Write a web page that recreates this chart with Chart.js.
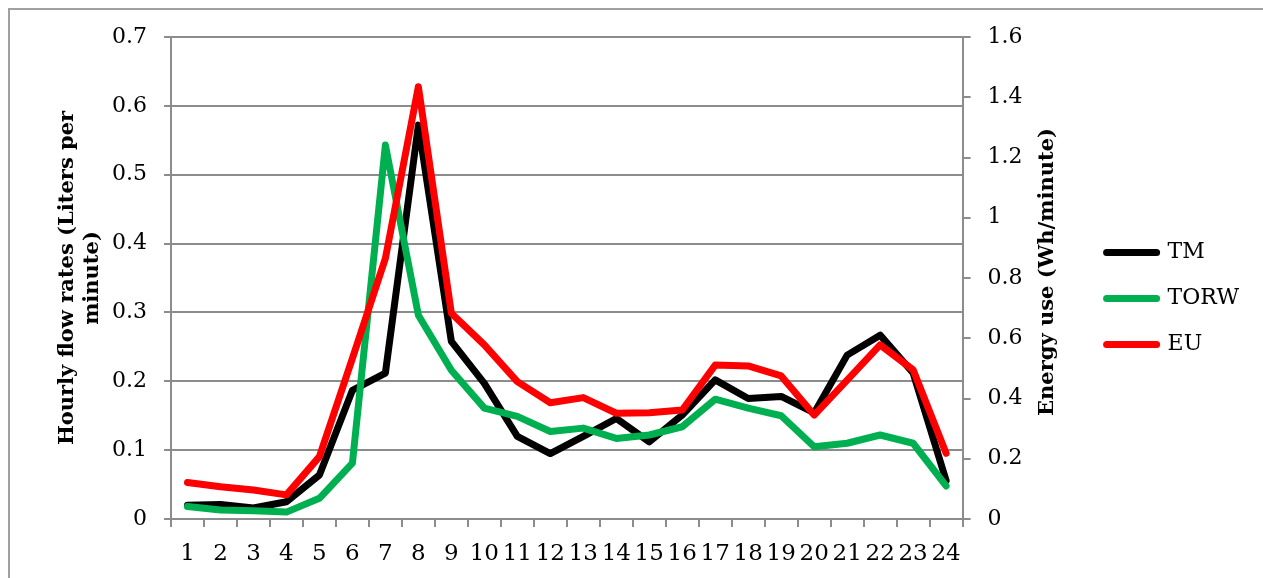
<!DOCTYPE html>
<html>
<head>
<meta charset="utf-8">
<script src="https://cdn.jsdelivr.net/npm/chart.js@4.4.1/dist/chart.umd.min.js"></script>
<style>
  html, body { margin: 0; padding: 0; background: #fff; overflow: hidden; }
  #frame { position: absolute; left: 8px; top: 8px; width: 1300px; height: 620px; border: 2px solid #a0a0a0; }
  #wrap { position: absolute; left: 0; top: 0; width: 1263px; height: 578px; }
</style>
</head>
<body>
<div id="frame"></div>
<div id="wrap"><canvas id="flowChart" width="1263" height="578"></canvas></div>
<script>
// hours of the day
const hours = ['1', '2', '3', '4', '5', '6', '7', '8', '9', '10', '11', '12',
               '13', '14', '15', '16', '17', '18', '19', '20', '21', '22', '23', '24'];

// flow rates, L/min (left axis)
const tmFlow = [0.020, 0.021, 0.016, 0.025, 0.064, 0.187, 0.212, 0.572, 0.258, 0.197, 0.120, 0.095,
                0.120, 0.146, 0.112, 0.151, 0.202, 0.175, 0.178, 0.154, 0.238, 0.267, 0.212, 0.056];
const torwFlow = [0.018, 0.013, 0.012, 0.010, 0.030, 0.081, 0.543, 0.296, 0.216, 0.161, 0.149, 0.127,
                  0.132, 0.117, 0.122, 0.134, 0.174, 0.161, 0.150, 0.105, 0.110, 0.122, 0.110, 0.048];

// energy use, Wh/min (right axis)
const euEnergy = [0.121, 0.107, 0.096, 0.080, 0.207, 0.533, 0.865, 1.435, 0.683, 0.578, 0.456, 0.386,
                  0.403, 0.351, 0.353, 0.362, 0.511, 0.508, 0.475, 0.345, 0.461, 0.578, 0.495, 0.218];

const flowTicks = ['0', '0.1', '0.2', '0.3', '0.4', '0.5', '0.6', '0.7'];
const energyTicks = ['0', '0.2', '0.4', '0.6', '0.8', '1', '1.2', '1.4', '1.6'];

const flowTitle = ['Hourly flow rates (Liters per', 'minute)'];
const energyTitle = 'Energy use (Wh/minute)';

Chart.defaults.font.family = '"DejaVu Serif", serif';
Chart.defaults.color = '#000';

const gridGray = '#8c8c8c';

// right axis title reads bottom-to-top like the left one
const rightTitle = {
    id: 'rightTitle',
    afterDraw(chart) {
        const s = chart.scales.yEnergy;
        const { ctx, chartArea } = chart;
        ctx.save();
        ctx.translate(s.right - 35, (chartArea.top + chartArea.bottom) / 2 - 6);
        ctx.rotate(-Math.PI / 2);
        ctx.font = 'bold 21px "DejaVu Serif"';
        ctx.fillStyle = '#000';
        ctx.textAlign = 'center';
        ctx.textBaseline = 'middle';
        ctx.fillText(energyTitle, 0, 0);
        ctx.restore();
    }
};

const legendNudge = {
    id: 'legendNudge',
    afterLayout(chart) {
        chart.legend.top -= 3;
        chart.legend.bottom -= 3;
    }
};

new Chart(document.getElementById('flowChart'), {
    type: 'line',
    data: {
        labels: hours,
        datasets: [
            { label: 'TM', data: tmFlow, yAxisID: 'yFlow', borderColor: '#000000', backgroundColor: '#000000', order: 3 },
            { label: 'TORW', data: torwFlow, yAxisID: 'yFlow', borderColor: '#00B050', backgroundColor: '#00B050', order: 2 },
            { label: 'EU', data: euEnergy, yAxisID: 'yEnergy', borderColor: '#FF0000', backgroundColor: '#FF0000', order: 1 }
        ]
    },
    options: {
        responsive: false,
        animation: false,
        events: [],
        elements: {
            line: { borderWidth: 7, tension: 0, borderCapStyle: 'round', borderJoinStyle: 'round', fill: false },
            point: { radius: 0 }
        },
        layout: { padding: { left: 50, top: 37, right: 14, bottom: 12 } },
        plugins: {
            tooltip: { enabled: false },
            legend: {
                position: 'right',
                align: 'center',
                labels: {
                    usePointStyle: true,
                    pointStyle: 'line',
                    pointStyleWidth: 50,
                    padding: 24,
                    color: '#000',
                    font: { size: 22 },
                    generateLabels: chart =>
                        Chart.defaults.plugins.legend.labels.generateLabels(chart).map(item => {
                            const ds = chart.data.datasets[item.datasetIndex];
                            return { ...item, strokeStyle: ds.borderColor, fillStyle: ds.borderColor, lineWidth: 7, lineCap: 'round' };
                        }),
                    sort: (a, b) => a.datasetIndex - b.datasetIndex
                }
            }
        },
        scales: {
            x: {
                offset: true,
                grid: { offset: true, drawOnChartArea: false, tickLength: 8, color: gridGray, lineWidth: 2 },
                border: { color: gridGray, width: 2 },
                ticks: { font: { size: 23 }, padding: 13, autoSkip: false, maxRotation: 0 },
                afterFit: s => { s.height = 47; }
            },
            yFlow: {
                position: 'left',
                min: 0,
                max: 0.7,
                grid: { color: gridGray, lineWidth: 2, tickLength: 7 },
                border: { color: gridGray, width: 2 },
                ticks: { stepSize: 0.1, font: { size: 22 }, padding: 17, callback: (v, i) => flowTicks[i] },
                title: {
                    display: true,
                    text: flowTitle,
                    color: '#000',
                    font: { size: 21, weight: 'bold', lineHeight: 1.2 },
                    padding: { top: 5, bottom: 8 }
                },
                afterFit: s => { s.width = 121; }
            },
            yEnergy: {
                position: 'right',
                min: 0,
                max: 1.6,
                grid: { drawOnChartArea: false, color: gridGray, lineWidth: 2, tickLength: 8 },
                border: { color: gridGray, width: 2 },
                ticks: { stepSize: 0.2, font: { size: 22 }, padding: 17, callback: (v, i) => energyTicks[i] },
                afterFit: s => { s.width = 120; }
            }
        }
    },
    plugins: [rightTitle, legendNudge]
});
</script>
</body>
</html>
